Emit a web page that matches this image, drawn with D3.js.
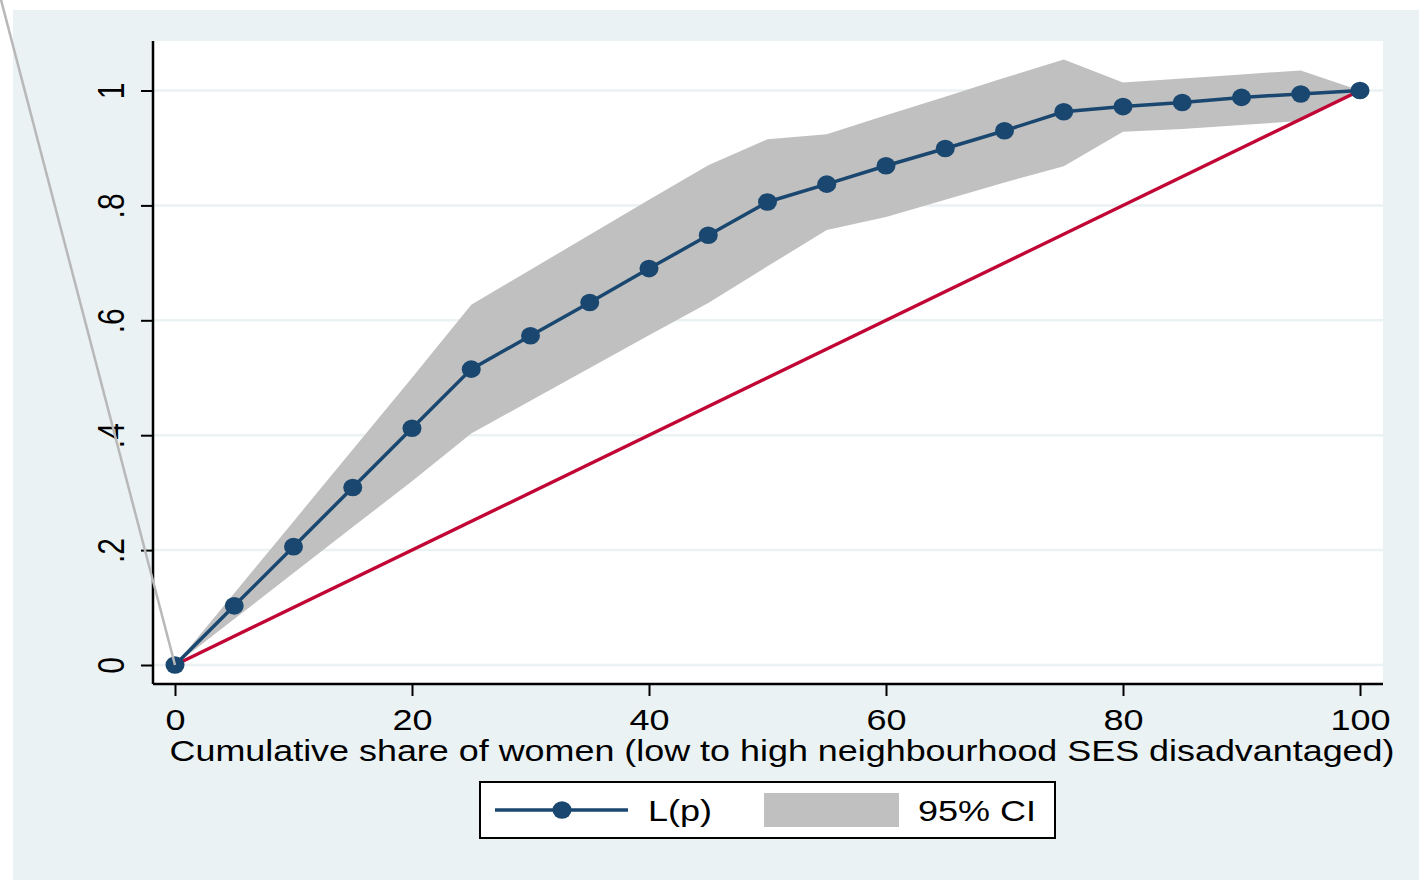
<!DOCTYPE html>
<html>
<head>
<meta charset="utf-8">
<script src="https://cdn.jsdelivr.net/npm/d3@7"></script>
<style>
  html, body { margin: 0; padding: 0; background: #ffffff; }
  svg { display: block; }
  text { font-family: "Liberation Sans", Arial, sans-serif; fill: #000; }
</style>
</head>
<body>
<svg id="chart" width="1419" height="880"></svg>
<script>
// ---------- data ----------
const pValues = [0, 5, 10, 15, 20, 25, 30, 35, 40, 45, 50, 55, 60, 65, 70, 75, 80, 85, 90, 95, 100];
const lorenz  = [0, 0.103, 0.206, 0.309, 0.412, 0.515, 0.573, 0.631, 0.690, 0.748, 0.806, 0.837, 0.869, 0.899, 0.930, 0.963, 0.972, 0.979, 0.988, 0.994, 1.0];
const ciUpper = [0, 0.125, 0.250, 0.375, 0.500, 0.627, 0.688, 0.749, 0.810, 0.870, 0.915, 0.924, 0.957, 0.989, 1.022, 1.054, 1.014, 1.021, 1.028, 1.035, 1.0];
const ciLower = [0, 0.080, 0.160, 0.240, 0.320, 0.403, 0.460, 0.517, 0.574, 0.630, 0.694, 0.757, 0.780, 0.810, 0.840, 0.868, 0.928, 0.933, 0.940, 0.947, 1.0];
const equality = [[0, 0], [100, 1]];
const strayLine = [[0, 0], [-14.9, 1.175]];
const xTicks = [0, 20, 40, 60, 80, 100];
const yTicks = [0, 0.2, 0.4, 0.6, 0.8, 1];
const yTickLabels = ["0", ".2", ".4", ".6", ".8", "1"];
const xTitle = "Cumulative share of women (low to high neighbourhood SES disadvantaged)";
const legendLabels = ["L(p)", "95% CI"];

// ---------- layout ----------
const svg = d3.select("#chart");
const W = 1419, H = 880;
const plot = { left: 153, right: 1383, top: 41, bottom: 684 };
const x = d3.scaleLinear().domain([0, 100]).range([175, 1360]);
const y = d3.scaleLinear().domain([0, 1]).range([665, 90.5]);
const stretch = 1.2; // reference text is horizontally wide

const navy = "#1a476f", red = "#c10534", ciGray = "#c0c0c0", bg = "#eaf2f3";
const fontFam = "'Liberation Sans', Arial, sans-serif";

// outer graph background
svg.append("rect").attr("x", 13).attr("y", 10).attr("width", W - 13).attr("height", H - 10).attr("fill", bg);
// plot region
svg.append("rect").attr("x", plot.left).attr("y", plot.top)
  .attr("width", plot.right - plot.left).attr("height", plot.bottom - plot.top).attr("fill", "#ffffff");

// gridlines
svg.append("g").selectAll("line").data(yTicks).join("line")
  .attr("x1", plot.left).attr("x2", plot.right)
  .attr("y1", d => y(d)).attr("y2", d => y(d))
  .attr("stroke", bg).attr("stroke-width", 2.5);

// CI band
const data = pValues.map((p, i) => ({ p, l: lorenz[i], lo: ciLower[i], hi: ciUpper[i] }));
svg.append("path").datum(data)
  .attr("d", d3.area().x(d => x(d.p)).y0(d => y(d.lo)).y1(d => y(d.hi)))
  .attr("fill", ciGray);

// equality line
svg.append("path").datum(equality)
  .attr("d", d3.line().x(d => x(d[0])).y(d => y(d[1])))
  .attr("fill", "none").attr("stroke", red).attr("stroke-width", 3.4);

// Lorenz line
svg.append("path").datum(data)
  .attr("d", d3.line().x(d => x(d.p)).y(d => y(d.l)))
  .attr("fill", "none").attr("stroke", navy).attr("stroke-width", 3.5);

// markers
svg.append("g").selectAll("ellipse").data(data).join("ellipse")
  .attr("cx", d => x(d.p)).attr("cy", d => y(d.l))
  .attr("rx", 9.5).attr("ry", 8.8)
  .attr("fill", navy);

// axes
const yAxis = d3.axisLeft(y).tickValues(yTicks).tickFormat((d, i) => yTickLabels[i]).tickSize(12).tickPadding(0);
const gy = svg.append("g").attr("transform", `translate(${plot.left},0)`).call(yAxis);
gy.select(".domain").attr("d", `M0,${plot.top}V${plot.bottom}`).attr("stroke", "#000").attr("stroke-width", 2.5);
gy.selectAll(".tick line").attr("stroke", "#000").attr("stroke-width", 2);
gy.selectAll(".tick text")
  .attr("x", 0).attr("y", 0).attr("dy", 0)
  .attr("transform", `translate(-29,0) scale(${stretch},1) rotate(-90)`)
  .attr("text-anchor", "middle")
  .style("font-size", "30px").style("font-family", fontFam);

const xAxis = d3.axisBottom(x).tickValues(xTicks).tickFormat(d3.format("d")).tickSize(12).tickPadding(0);
const gx = svg.append("g").attr("transform", `translate(0,${plot.bottom})`).call(xAxis);
gx.select(".domain").attr("d", `M${plot.left},0H${plot.right}`).attr("stroke", "#000").attr("stroke-width", 2.5);
gx.selectAll(".tick line").attr("stroke", "#000").attr("stroke-width", 2);
gx.selectAll(".tick text")
  .attr("y", 0).attr("dy", 0)
  .attr("transform", `translate(0,46) scale(${stretch},1)`)
  .style("font-size", "30px").style("font-family", fontFam);

// axis title
svg.append("text").attr("x", 782).attr("y", 761).attr("text-anchor", "middle")
  .attr("textLength", 1225).attr("lengthAdjust", "spacingAndGlyphs")
  .style("font-size", "30px").text(xTitle);

// stray line artifact (drawn on top, unclipped)
svg.append("path").datum(strayLine)
  .attr("d", d3.line().x(d => x(d[0])).y(d => y(d[1])))
  .attr("fill", "none").attr("stroke", "#b8b8b8").attr("stroke-width", 2.5);

// legend
const lg = svg.append("g");
lg.append("rect").attr("x", 480).attr("y", 782).attr("width", 575).attr("height", 56)
  .attr("fill", "#fff").attr("stroke", "#000").attr("stroke-width", 2);
lg.append("line").attr("x1", 495).attr("x2", 628).attr("y1", 810).attr("y2", 810)
  .attr("stroke", navy).attr("stroke-width", 3.5);
lg.append("ellipse").attr("cx", 562).attr("cy", 810).attr("rx", 9.5).attr("ry", 8.8).attr("fill", navy);
lg.append("text").attr("transform", `translate(648,821) scale(${stretch},1)`)
  .style("font-size", "30px").text(legendLabels[0]);
lg.append("rect").attr("x", 764).attr("y", 793).attr("width", 135).attr("height", 34).attr("fill", ciGray);
lg.append("text").attr("transform", `translate(918,821) scale(${stretch},1)`)
  .style("font-size", "30px").text(legendLabels[1]);
</script>
</body>
</html>
